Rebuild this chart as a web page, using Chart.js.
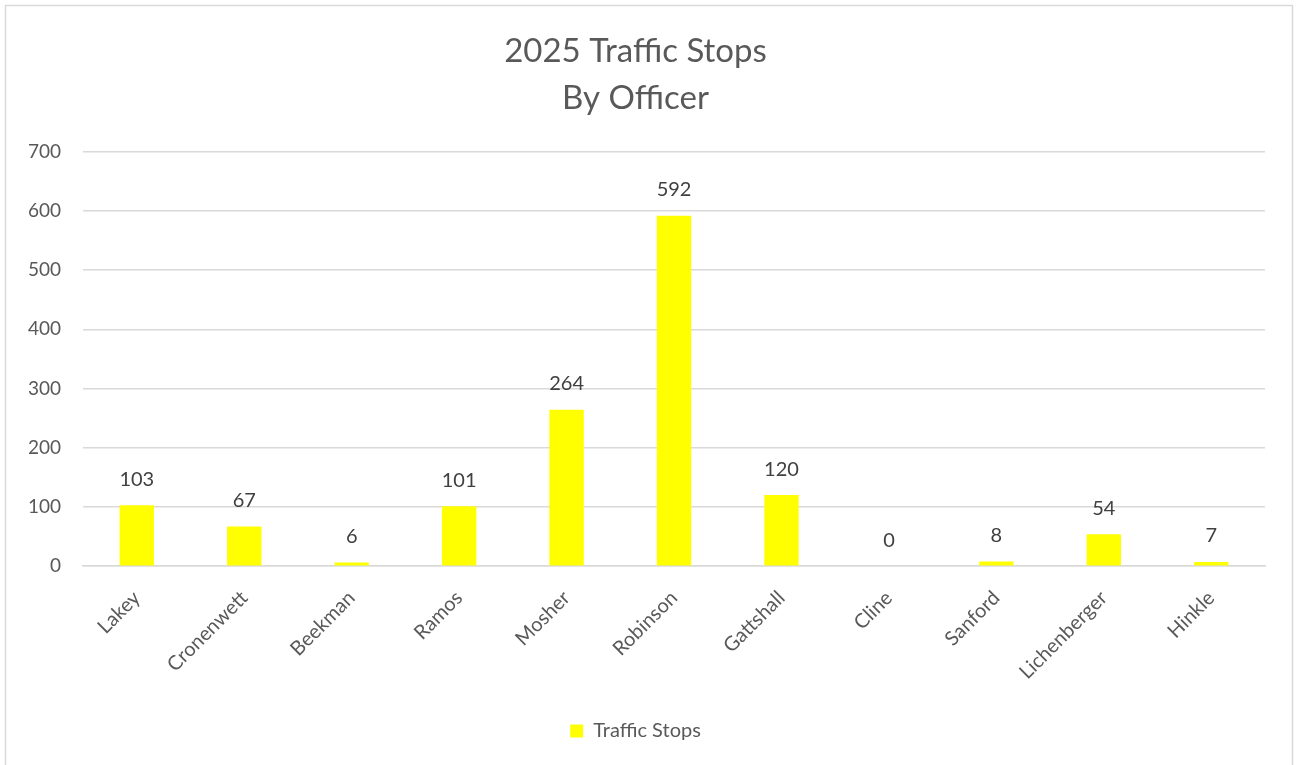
<!DOCTYPE html>
<html>
<head>
<meta charset="utf-8">
<script src="https://cdn.jsdelivr.net/npm/chart.js@4/dist/chart.umd.min.js"></script>
<style>
html,body{margin:0;padding:0;background:#fff;}
#wrap{position:absolute;left:0;top:0;width:1299px;height:765px;}
</style>
</head>
<body>
<div id="wrap"><canvas id="c" width="1299" height="765"></canvas></div>
<script>
const categories = ["Lakey","Cronenwett","Beekman","Ramos","Mosher","Robinson","Gattshall","Cline","Sanford","Lichenberger","Hinkle"];
const trafficStops = [103,67,6,101,264,592,120,0,8,54,7];
const titleLines = ["2025 Traffic Stops","By Officer"];
const seriesName = "Traffic Stops";
const yTicks = [0,100,200,300,400,500,600,700];

const FONT = "Lato, 'Open Sans', sans-serif";
const GREY = "#595959";

const borderPlugin = {
  id: 'outerBorder',
  beforeDraw(chart) {
    const ctx = chart.ctx;
    ctx.save();
    ctx.fillStyle = '#fff';
    ctx.fillRect(0,0,chart.width,chart.height);
    ctx.strokeStyle = '#d9d9d9';
    ctx.lineWidth = 1.5;
    ctx.strokeRect(5.5,5.5,1287,800);
    ctx.restore();
  }
};

const labelPlugin = {
  id: 'valueLabels',
  afterDatasetsDraw(chart) {
    const ctx = chart.ctx;
    const meta = chart.getDatasetMeta(0);
    ctx.save();
    ctx.font = "20px " + FONT;
    ctx.fillStyle = "#404040";
    ctx.textAlign = 'center';
    ctx.textBaseline = 'middle';
    meta.data.forEach((bar, i) => {
      ctx.fillText(String(chart.data.datasets[0].data[i]), bar.x, bar.y - 26);
    });
    ctx.restore();
  }
};

new Chart(document.getElementById('c'), {
  type: 'bar',
  data: {
    labels: categories,
    datasets: [{
      label: seriesName,
      data: trafficStops,
      backgroundColor: '#ffff00',
      borderWidth: 0,
      barPercentage: 0.32,
      categoryPercentage: 1.0
    }]
  },
  options: {
    responsive: false,
    animation: false,
    devicePixelRatio: 1,
    layout: { padding: { left: 6, right: 34, top: 12, bottom: 14 } },
    plugins: {
      title: {
        display: true,
        text: titleLines,
        color: GREY,
        font: { family: FONT, size: 33, weight: 'normal', lineHeight: 1.42 },
        padding: { top: 16, bottom: 30 }
      },
      legend: {
        display: true,
        position: 'bottom',
        labels: {
          color: GREY,
          font: { family: FONT, size: 20 },
          boxWidth: 13,
          boxHeight: 13,
          padding: 10
        }
      },
      tooltip: { enabled: false }
    },
    scales: {
      x: {
        grid: { display: false, drawTicks: false },
        border: { display: true, color: '#d9d9d9', width: 1.5 },
        afterFit(axis) { axis.height += 7; },
        ticks: {
          color: GREY,
          font: { family: FONT, size: 20 },
          maxRotation: 45,
          minRotation: 45,
          padding: 20,
          autoSkip: false
        }
      },
      y: {
        min: 0,
        max: 700,
        afterBuildTicks(axis) { axis.ticks = yTicks.map(v => ({ value: v })); },
        grid: { color: '#d9d9d9', lineWidth: 1.5, drawTicks: false },
        border: { display: false },
        ticks: {
          color: GREY,
          font: { family: FONT, size: 19 },
          padding: 22
        }
      }
    }
  },
  plugins: [borderPlugin, labelPlugin]
});
</script>
</body>
</html>
